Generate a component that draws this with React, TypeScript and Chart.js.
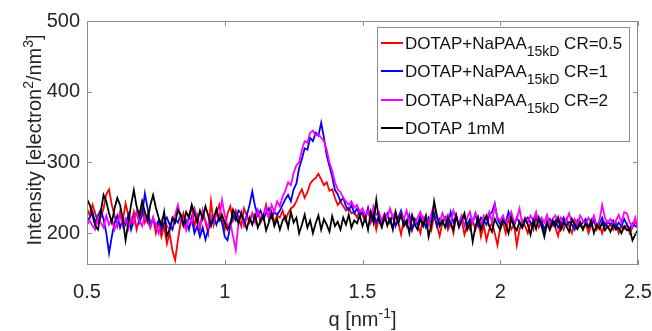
import React, { useEffect, useRef } from "react";
import { Chart, registerables } from "chart.js";

Chart.register(...registerables);

const FONT = "'Liberation Sans', Arial, Helvetica, sans-serif";

// q grid (nm^-1): 0.50 .. 2.50, step 0.01
const Q_START = 0.5;
const Q_STEP = 0.01;

const X_TICKS = [0.5, 1, 1.5, 2, 2.5];
const Y_TICKS = [200, 300, 400, 500];
const X_MIN = 0.5;
const X_MAX = 2.5;
const Y_MIN = 155;
const Y_MAX = 500;

const SERIES_LABELS = [
  "DOTAP+NaPAA_{15kD} CR=0.5",
  "DOTAP+NaPAA_{15kD} CR=1",
  "DOTAP+NaPAA_{15kD} CR=2",
  "DOTAP 1mM",
];
const SERIES_COLORS = ["#ff0000", "#0000ff", "#ff00ff", "#000000"];

const X_TITLE = "q [nm^{-1}]";
const Y_TITLE = "Intensity [electron^{2}/nm^{3}]";

const redValues = [
  235, 225, 240, 228, 215, 222, 235, 255, 262, 240,
  225, 210, 230, 218, 242, 225, 212, 230, 205, 220,
  235, 215, 226, 208, 222, 200, 215, 195, 210, 185,
  200, 175, 162, 190, 215, 228, 205, 222, 238, 210,
  225, 205, 232, 215, 200, 245, 212, 228, 240, 220,
  205, 228, 238, 218, 232, 222, 210, 235, 225, 215,
  228, 218, 232, 215, 225, 240, 220, 230, 215, 225,
  222, 232, 218, 228, 235, 238, 245, 255, 262, 250,
  258, 270, 275, 278, 284, 276, 268, 272, 260, 262,
  250, 240, 245, 238, 232, 236, 228, 230, 222, 232,
  225, 218, 235, 215, 228, 205, 222, 212, 225, 210,
  220, 208, 225, 215, 198, 220, 210, 225, 205, 218,
  212, 200, 222, 210, 218, 205, 225, 212, 196, 215,
  222, 205, 215, 200, 225, 210, 218, 198, 212, 205,
  218, 205, 220, 195, 212, 190, 205, 215, 200, 183,
  208, 215, 200, 222, 205, 212, 183, 205, 218, 210,
  200, 215, 205, 222, 208, 215, 200, 218, 205, 212,
  208, 196, 215, 205, 220, 210, 200, 215, 206, 212,
  205, 215, 200, 210, 218, 205, 212, 200, 215, 208,
  212, 205, 215, 200, 210, 206, 212, 200, 208, 215,
  210,
];

const blueValues = [
  218, 222, 230, 215, 225, 233, 220, 200, 172, 195,
  215, 225, 208, 220, 212, 226, 205, 218, 230, 215,
  225, 256, 235, 212, 220, 210, 218, 205, 215, 222,
  212, 205, 220, 215, 226, 210, 218, 205, 222, 200,
  210, 195, 208, 191, 205, 218, 222, 212, 225, 215,
  195, 190, 210, 225, 218, 232, 228, 215, 225, 240,
  259, 238, 225, 232, 220, 228, 235, 222, 230, 226,
  232, 240, 248, 254, 245, 262, 270, 292, 305, 320,
  318, 335, 330, 342, 338, 356, 335, 310, 295, 280,
  261, 255, 245, 250, 238, 232, 240, 228, 235, 226,
  230, 222, 235, 218, 228, 215, 225, 210, 220, 228,
  215, 225, 210, 222, 232, 218, 212, 225, 205, 220,
  212, 225, 218, 208, 222, 215, 228, 210, 220, 214,
  222, 210, 230, 215, 225, 208, 218, 225, 212, 220,
  215, 228, 210, 222, 218, 212, 225, 230, 242, 220,
  212, 222, 215, 230, 218, 210, 222, 215, 208, 218,
  222, 215, 210, 225, 212, 218, 205, 215, 220, 212,
  218, 208, 215, 222, 210, 216, 212, 205, 218, 210,
  215, 220, 208, 212, 218, 210, 214, 222, 210, 216,
  212, 218, 208, 215, 210, 220, 212, 206, 214, 210,
  208,
];

const magentaValues = [
  212, 218, 210, 205, 222, 215, 208, 225, 212, 220,
  205, 215, 226, 210, 220, 206, 222, 214, 230, 218,
  210, 225, 215, 208, 222, 212, 200, 218, 226, 210,
  205, 218, 226, 240, 220, 212, 205, 225, 215, 235,
  222, 210, 230, 218, 208, 225, 215, 232, 220, 247,
  225, 210, 215, 196, 176, 215, 230, 210, 222, 218,
  228, 215, 232, 220, 226, 235, 222, 240, 230, 245,
  238, 252, 260, 272, 268, 285, 296, 300, 318, 330,
  328, 342, 345, 338, 340, 335, 330, 318, 300, 288,
  272, 262, 258, 250, 245, 240, 245, 236, 240, 230,
  235, 225, 232, 220, 238, 226, 230, 218, 228, 222,
  235, 222, 230, 215, 228, 220, 232, 215, 225, 212,
  222, 230, 218, 225, 212, 228, 240, 222, 215, 228,
  218, 226, 212, 232, 220, 215, 225, 210, 222, 230,
  215, 228, 222, 212, 225, 218, 230, 215, 240, 222,
  218, 225, 212, 222, 230, 215, 220, 235, 212, 222,
  215, 225, 218, 230, 212, 222, 215, 226, 210, 220,
  225, 215, 222, 210, 218, 228, 215, 220, 212, 225,
  218, 212, 222, 215, 225, 210, 218, 240, 222, 215,
  220, 212, 218, 226, 215, 230, 228, 215, 210, 222,
  205,
];

const blackValues = [
  248, 240, 225, 210, 205, 230, 254, 245, 228, 215,
  235, 250, 240, 220, 190, 215, 240, 261, 238, 225,
  245, 230, 218, 240, 254, 236, 222, 210, 230, 196,
  205, 222, 215, 233, 226, 212, 230, 222, 240, 228,
  215, 232, 220, 238, 225, 210, 222, 234, 218, 226,
  215, 205, 212, 233, 224, 214, 228, 218, 206, 222,
  212, 226, 208, 218, 225, 204, 215, 228, 210, 220,
  205, 218, 224, 208, 230, 215, 222, 200, 212, 226,
  208, 218, 200, 214, 225, 205, 220, 212, 202, 224,
  210, 216, 205, 222, 212, 226, 208, 218, 214, 225,
  210, 222, 205, 230, 215, 247, 218, 208, 225, 212,
  220, 205, 230, 214, 226, 210, 218, 200, 225, 212,
  205, 220, 210, 224, 195, 212, 245, 225, 210, 218,
  208, 222, 214, 205, 225, 210, 218, 228, 205, 215,
  188, 210, 222, 205, 216, 225, 210, 202, 220, 212,
  205, 218, 212, 200, 222, 210, 204, 216, 208, 220,
  212, 198, 218, 206, 222, 210, 195, 214, 205, 218,
  210, 222, 205, 216, 210, 202, 220, 212, 206, 216,
  205, 214, 208, 218, 200, 212, 206, 215, 204, 210,
  202, 212, 205, 208, 200, 210, 204, 206, 190, 198,
  205,
];

const SERIES_VALUES = [redValues, blueValues, magentaValues, blackValues];

type Part = { t: string; size: number; dy: number };

function parseRich(s: string, base: number, small: number, shift: number): Part[] {
  const parts: Part[] = [];
  const re = /([_^])\{([^}]*)\}/g;
  let last = 0;
  let m: RegExpExecArray | null;
  while ((m = re.exec(s))) {
    if (m.index > last) parts.push({ t: s.slice(last, m.index), size: base, dy: 0 });
    parts.push({ t: m[2], size: small, dy: m[1] === "_" ? shift : -shift });
    last = re.lastIndex;
  }
  if (last < s.length) parts.push({ t: s.slice(last), size: base, dy: 0 });
  return parts;
}

function drawParts(ctx: CanvasRenderingContext2D, parts: Part[], x: number, y: number, align: "left" | "center") {
  ctx.textAlign = "left";
  ctx.textBaseline = "alphabetic";
  let w = 0;
  for (const p of parts) {
    ctx.font = `${p.size}px ${FONT}`;
    w += ctx.measureText(p.t).width;
  }
  let cx = align === "center" ? x - w / 2 : x;
  for (const p of parts) {
    ctx.font = `${p.size}px ${FONT}`;
    ctx.fillText(p.t, cx, y + p.dy);
    cx += ctx.measureText(p.t).width;
  }
}

const framePlugin = {
  id: "matlabFrame",
  afterDraw(chart: any) {
    const ctx: CanvasRenderingContext2D = chart.ctx;
    const { left, right, top, bottom } = chart.chartArea;
    const xs = chart.scales.x;
    const ys = chart.scales.y;
    ctx.save();
    // axes box
    ctx.strokeStyle = "#8c8c8c";
    ctx.lineWidth = 1;
    ctx.strokeRect(left + 0.5, top + 0.5, right - left - 1, bottom - top - 1);
    // inward ticks
    const tl = 5;
    ctx.beginPath();
    for (const v of X_TICKS) {
      const px = Math.round(xs.getPixelForValue(v)) + 0.5;
      ctx.moveTo(px, bottom);
      ctx.lineTo(px, bottom - tl);
      ctx.moveTo(px, top);
      ctx.lineTo(px, top + tl);
    }
    for (const v of Y_TICKS) {
      const py = Math.round(ys.getPixelForValue(v)) + 0.5;
      ctx.moveTo(left, py);
      ctx.lineTo(left + tl, py);
      ctx.moveTo(right, py);
      ctx.lineTo(right - tl, py);
    }
    ctx.stroke();

    // axis titles
    ctx.fillStyle = "#262626";
    drawParts(ctx, parseRich(X_TITLE, 20, 14, 8), (left + right) / 2, 326, "center");
    ctx.save();
    ctx.translate(41, (top + bottom) / 2 - 3);
    ctx.rotate(-Math.PI / 2);
    drawParts(ctx, parseRich(Y_TITLE, 20, 14, 8), 0, 0, "center");
    ctx.restore();

    // legend
    const bx = 377, by = 27, bw = 252, bh = 114;
    ctx.fillStyle = "#ffffff";
    ctx.fillRect(bx, by, bw, bh);
    ctx.strokeStyle = "#8c8c8c";
    ctx.strokeRect(bx + 0.5, by + 0.5, bw, bh);
    const rows = [43, 71, 100, 128];
    SERIES_LABELS.forEach((lab, i) => {
      const ry = rows[i];
      ctx.strokeStyle = SERIES_COLORS[i];
      ctx.lineWidth = 2;
      ctx.beginPath();
      ctx.moveTo(381, ry);
      ctx.lineTo(403, ry);
      ctx.stroke();
      ctx.fillStyle = "#111111";
      drawParts(ctx, parseRich(lab, 17, 14, 7), 405, ry + 6, "left");
    });
    ctx.restore();
  },
};

export default function App() {
  const ref = useRef<HTMLCanvasElement | null>(null);

  useEffect(() => {
    document.body.style.margin = "0";
    const canvas = ref.current;
    if (!canvas) return;
    const datasets = SERIES_VALUES.map((vals, si) => ({
      label: SERIES_LABELS[si],
      data: vals.map((v, i) => ({ x: Q_START + i * Q_STEP, y: v })),
      borderColor: SERIES_COLORS[si],
      backgroundColor: SERIES_COLORS[si],
      borderWidth: 1.8,
      pointRadius: 0,
      tension: 0,
      fill: false,
      order: SERIES_VALUES.length - 1 - si,
    }));
    const chart = new Chart(canvas, {
      type: "line",
      data: { datasets },
      options: {
        animation: false,
        responsive: false,
        maintainAspectRatio: false,
        layout: { padding: { top: 21, right: 14, left: 0, bottom: 0 } },
        plugins: { legend: { display: false }, tooltip: { enabled: false } },
        scales: {
          x: {
            type: "linear",
            min: X_MIN,
            max: X_MAX,
            afterBuildTicks: (s: any) => {
              s.ticks = X_TICKS.map((v) => ({ value: v }));
            },
            afterFit: (s: any) => {
              s.height = 66;
              s.paddingRight = 0;
              s.paddingLeft = 0;
            },
            grid: { display: false, drawTicks: false },
            border: { display: false },
            ticks: {
              font: { size: 20, family: FONT },
              color: "#262626",
              padding: 15,
              maxRotation: 0,
              autoSkip: false,
              callback: (v: any) => String(v),
            },
          },
          y: {
            type: "linear",
            min: Y_MIN,
            max: Y_MAX,
            afterBuildTicks: (s: any) => {
              s.ticks = Y_TICKS.map((v) => ({ value: v }));
            },
            afterFit: (s: any) => {
              s.width = 87;
              s.paddingTop = 0;
              s.paddingBottom = 0;
            },
            grid: { display: false, drawTicks: false },
            border: { display: false },
            ticks: {
              font: { size: 20, family: FONT },
              color: "#262626",
              padding: 7,
              autoSkip: false,
              callback: (v: any) => String(v),
            },
          },
        },
      },
      plugins: [framePlugin],
    });
    return () => chart.destroy();
  }, []);

  return (
    <div style={{ position: "absolute", left: 0, top: 0, width: 652, height: 331, background: "#fff" }}>
      <canvas ref={ref} width={652} height={331} />
    </div>
  );
}
